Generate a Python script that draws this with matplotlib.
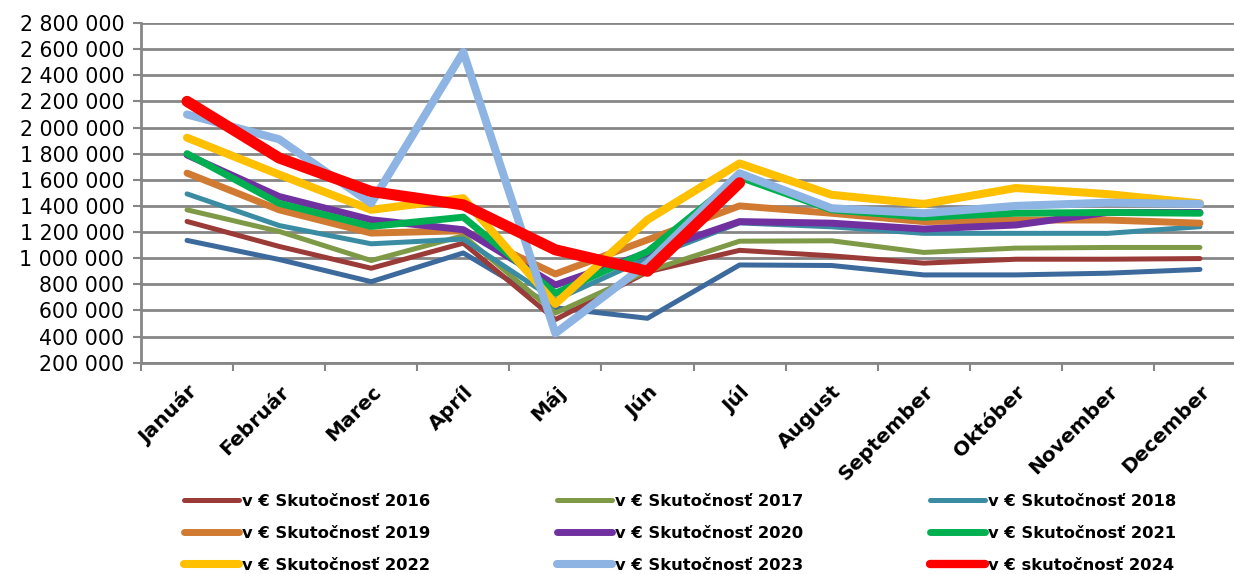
import matplotlib
matplotlib.use("Agg")
import matplotlib.pyplot as plt
from matplotlib.ticker import FuncFormatter, FixedLocator
import numpy as np

MONTHS = ["Január", "Február", "Marec", "Apríl", "Máj", "Jún", "Júl",
          "August", "September", "Október", "November", "December"]

# values in thousands of EUR
base_2015 = [1136, 990, 820, 1040, 620, 540, 948, 944, 872, 872, 885, 914]
act_2016 = [1281, 1090, 923, 1115, 530, 895, 1060, 1018, 962, 992, 992, 997]
act_2017 = [1370, 1205, 982, 1172, 580, 900, 1130, 1133, 1044, 1077, 1082, 1082]
act_2018 = [1492, 1250, 1110, 1146, 680, 1000, 1270, 1240, 1190, 1190, 1190, 1241]
act_2019 = [1651, 1370, 1192, 1210, 879, 1140, 1400, 1344, 1280, 1292, 1292, 1268]
act_2020 = [1790, 1472, 1294, 1218, 795, 1040, 1280, 1268, 1223, 1254, 1350, 1350]
act_2021 = [1800, 1420, 1243, 1314, 731, 1050, 1620, 1370, 1313, 1344, 1350, 1344]
act_2022 = [1922, 1640, 1370, 1459, 650, 1294, 1725, 1485, 1415, 1537, 1490, 1420]
act_2023 = [2100, 1910, 1420, 2578, 425, 960, 1650, 1382, 1344, 1400, 1425, 1415]
act_2024 = [2200, 1767, 1510, 1408, 1064, 900, 1577]

SERIES = [
    (None, base_2015, "#3D6A9C", 3.6),
    ("v € Skutočnosť 2016", act_2016, "#9B3B38", 3.6),
    ("v € Skutočnosť 2017", act_2017, "#7F9A47", 3.6),
    ("v € Skutočnosť 2018", act_2018, "#3A8CA2", 3.6),
    ("v € Skutočnosť 2019", act_2019, "#D07A32", 5.0),
    ("v € Skutočnosť 2020", act_2020, "#7030A0", 5.0),
    ("v € Skutočnosť 2021", act_2021, "#00B050", 5.0),
    ("v € Skutočnosť 2022", act_2022, "#FFC000", 5.8),
    ("v € Skutočnosť 2023", act_2023, "#8DB4E2", 5.8),
    ("v € skutočnosť 2024", act_2024, "#FF0000", 8.0),
]

FONT = "DejaVu Sans"
GRID = "#868686"


def space_fmt(v, _pos):
    return f"{int(round(v)):,}".replace(",", " ")


def main() -> None:
    fig = plt.figure(figsize=(12.34, 5.74), dpi=100)
    ax = fig.add_axes([141 / 1234, 211.3 / 574, 1105 / 1234, 339.7 / 574])

    handles = {}
    for label, vals, color, lw in SERIES:
        x = np.arange(len(vals))
        (ln,) = ax.plot(x, np.array(vals) * 1000, color=color, lw=lw,
                        solid_capstyle="round", solid_joinstyle="round",
                        label=label if label else "_nolegend_", zorder=3)
        if label:
            handles[label] = ln

    ax.set_xlim(-0.5, 11.5)
    ax.set_ylim(200000, 2800000)
    ax.yaxis.set_major_locator(FixedLocator(np.arange(200000, 2800001, 200000)))
    ax.yaxis.set_major_formatter(FuncFormatter(space_fmt))
    ax.grid(axis="y", color=GRID, lw=2.0, zorder=1)
    ax.set_axisbelow(True)

    ax.set_xticks(np.arange(12))
    ax.set_xticklabels(MONTHS, rotation=45, ha="right", va="top",
                       rotation_mode="anchor", fontweight="bold",
                       fontsize=14.5, family=FONT)
    ax.set_xticks(np.arange(-0.5, 12, 1), minor=True)
    ax.tick_params(axis="x", which="major", length=0, pad=14)
    ax.tick_params(axis="x", which="minor", length=6, width=1.5, color=GRID)
    ax.tick_params(axis="y", length=6, width=1.5, color=GRID, pad=6,
                   labelsize=14.8)
    for t in ax.get_yticklabels():
        t.set_family(FONT)

    for side in ("top", "right"):
        ax.spines[side].set_visible(False)
    for side in ("left", "bottom"):
        ax.spines[side].set_color(GRID)
        ax.spines[side].set_linewidth(2.0)

    order = ["v € Skutočnosť 2016", "v € Skutočnosť 2019", "v € Skutočnosť 2022",
             "v € Skutočnosť 2017", "v € Skutočnosť 2020", "v € Skutočnosť 2023",
             "v € Skutočnosť 2018", "v € Skutočnosť 2021", "v € skutočnosť 2024"]
    leg = fig.legend([handles[k] for k in order], order, ncol=3,
                     loc="upper left", bbox_to_anchor=(169 / 1234, 1 - 479 / 574),
                     frameon=False, handlelength=3.37, handletextpad=0.2,
                     columnspacing=7.75, labelspacing=1.05,
                     prop={"family": FONT, "weight": "bold", "size": 11.75})
    for ln in leg.get_lines():
        ln.set_linewidth(min(ln.get_linewidth(), 6.0))

    fig.savefig("out.png", dpi=100)
    plt.close(fig)


if __name__ == "__main__":
    main()
